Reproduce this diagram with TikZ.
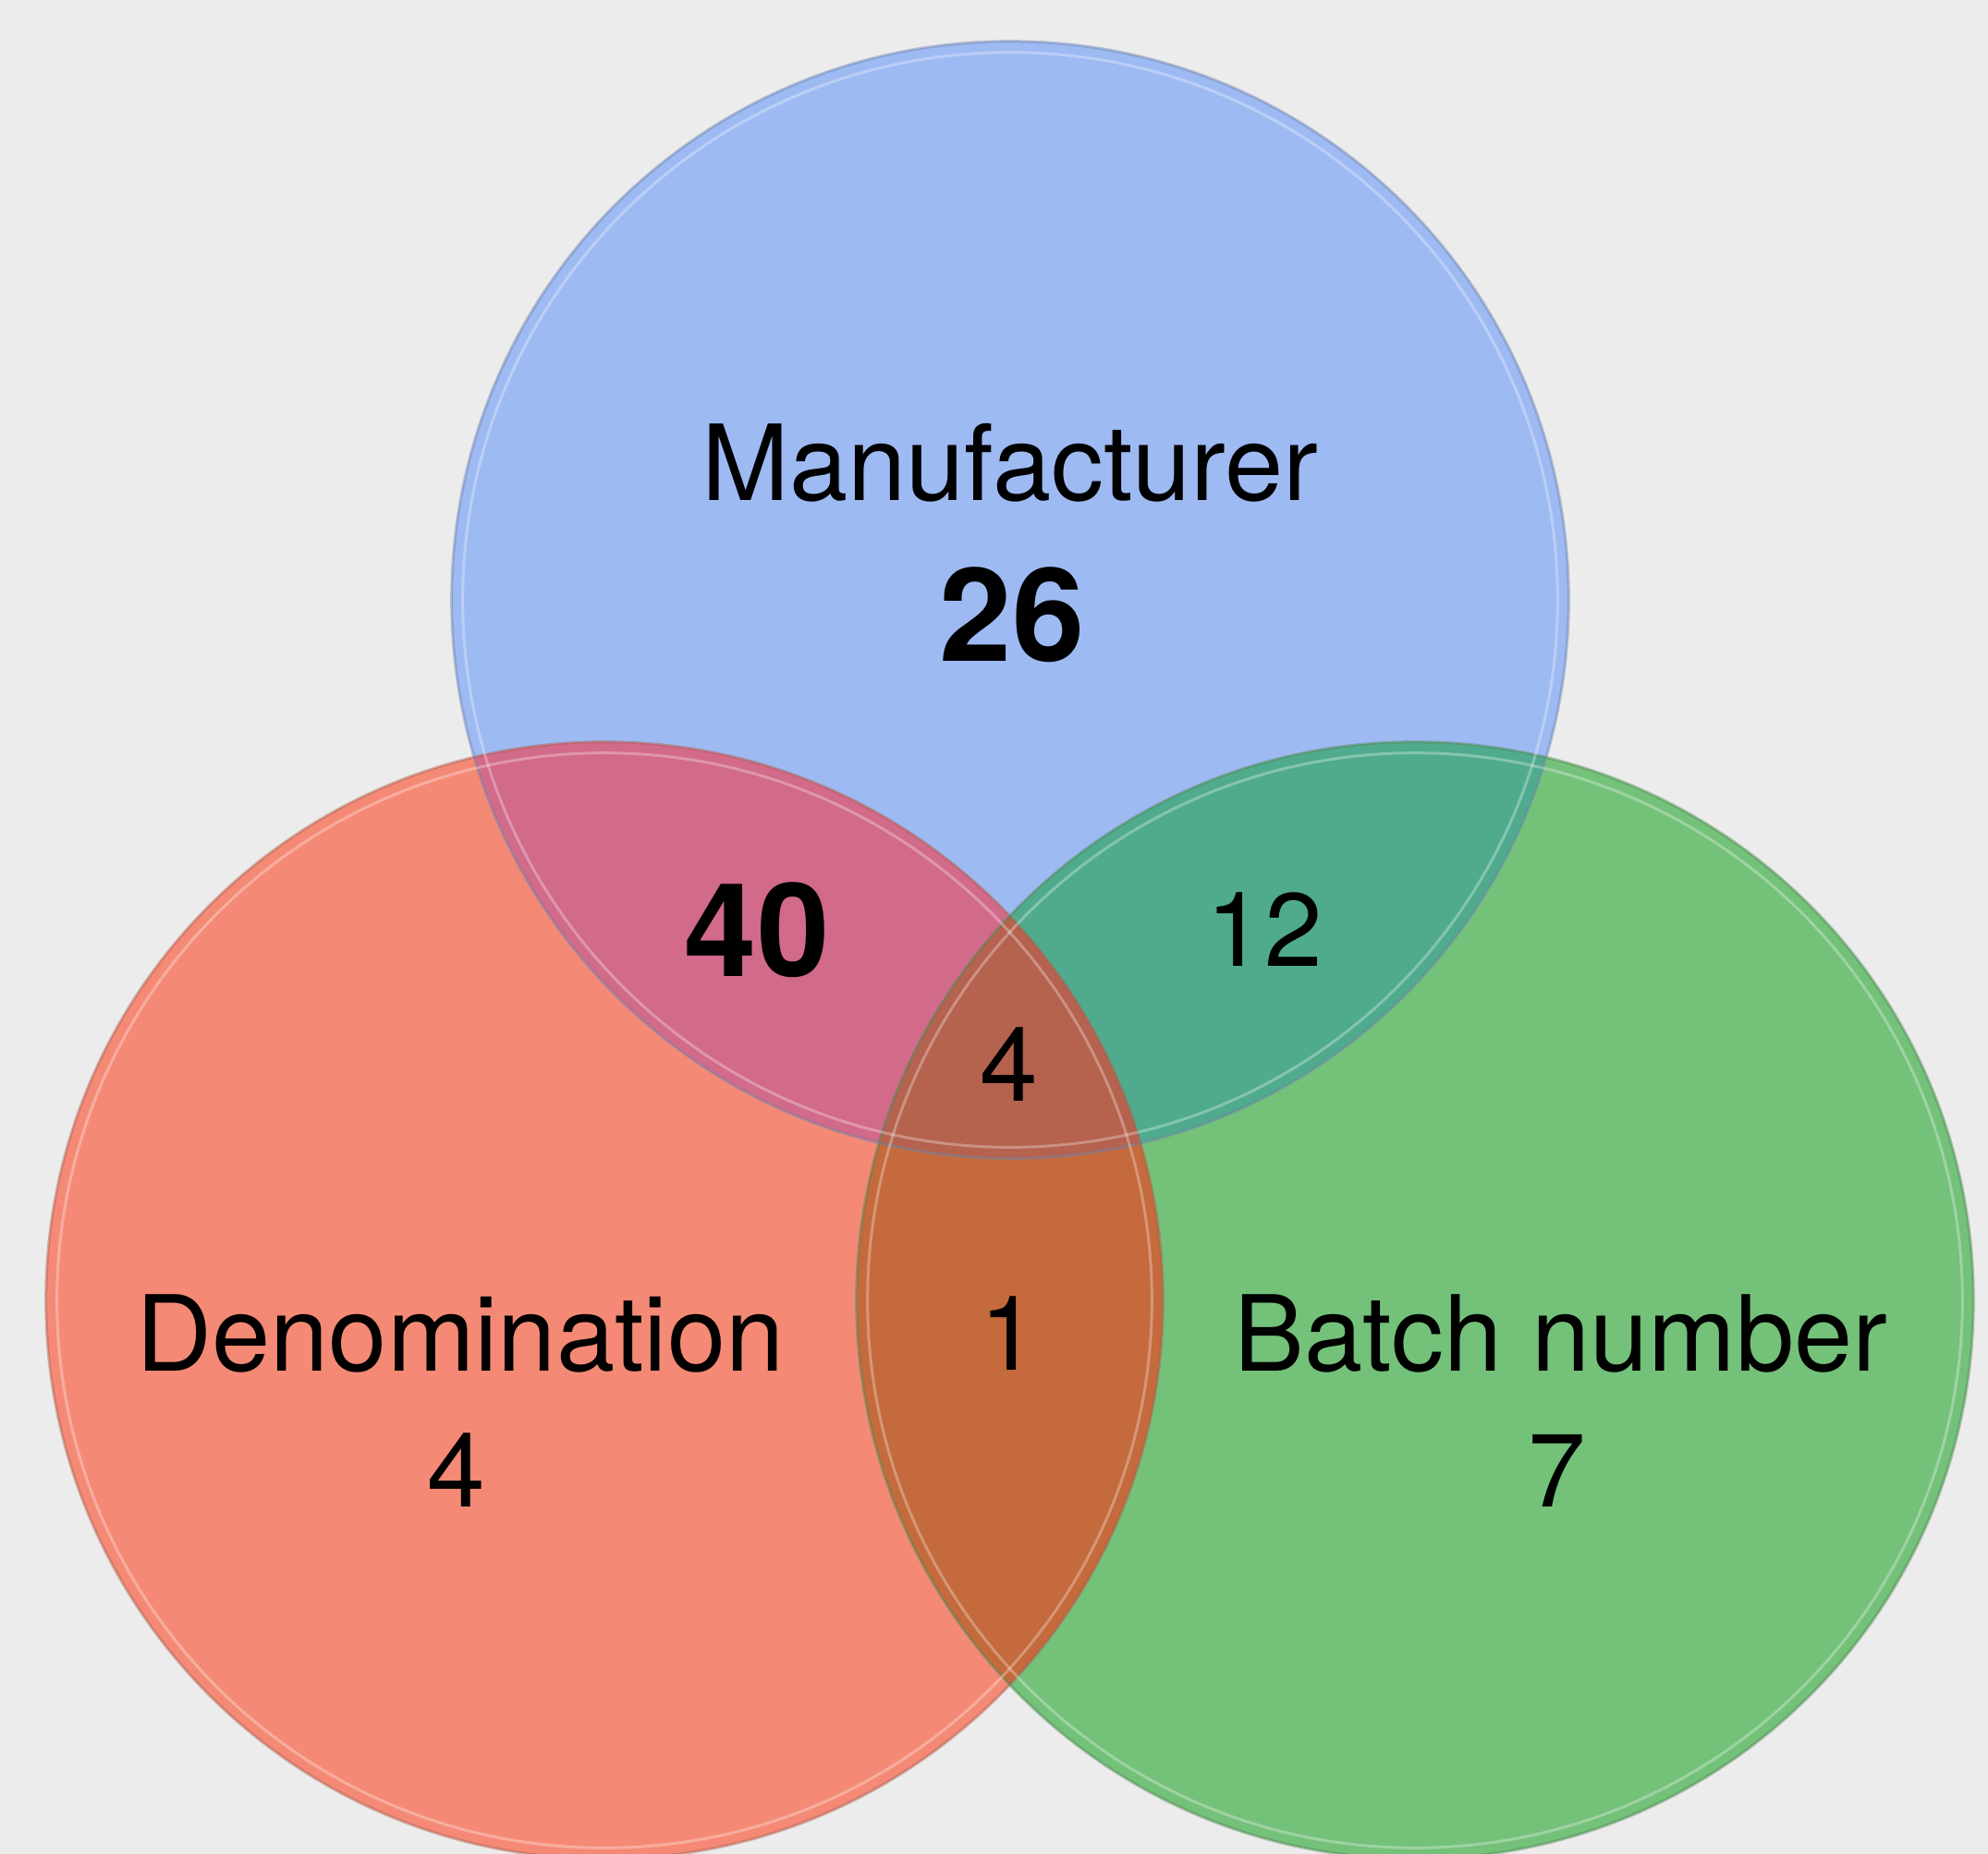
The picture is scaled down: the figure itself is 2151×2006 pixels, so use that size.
\documentclass[tikz,border=0pt]{standalone}
\usepackage{fontspec}
\setmainfont{TeX Gyre Heros}
\usetikzlibrary{positioning}
\definecolor{bgGray}{HTML}{ECECEC}
\definecolor{mfrBlue}{HTML}{9EBAF3}
\definecolor{denRed}{HTML}{F48A76}
\definecolor{batGreen}{HTML}{74C17A}
\definecolor{mfrDen}{HTML}{D26A8A}
\definecolor{mfrBat}{HTML}{50AB8E}
\definecolor{denBat}{HTML}{C46A3C}
\definecolor{allThree}{HTML}{B5624E}

\begin{document}
\begin{tikzpicture}[
    x=0.01cm, y=-0.01cm,
    every node/.style={align=center, text=black},
    setname/.style={font=\fontsize{32.3}{38}\selectfont},
    count/.style={font=\fontsize{32}{38}\selectfont},
    bigcount/.style={font=\fontsize{40}{46}\selectfont\bfseries},
    rim/.style={line width=0.03cm, draw opacity=0.45}
]

% Background
\useasboundingbox (0,0) rectangle (2151,2006);
\fill[bgGray] (0,0) rectangle (2151,2006);

% Circle centres
\coordinate (M) at (1093,649);
\coordinate (D) at (654,1407);
\coordinate (B) at (1531,1407);

% Circles
\fill[mfrBlue] (M) circle (6.04cm);
\fill[denRed] (D) circle (6.04cm);
\fill[batGreen] (B) circle (6.04cm);

% Overlaps
\begin{scope}
  \clip (D) circle (6.04cm);
  \fill[mfrDen] (M) circle (6.04cm);
  \fill[denBat] (B) circle (6.04cm);
\end{scope}
\begin{scope}
  \clip (M) circle (6.04cm);
  \fill[mfrBat] (B) circle (6.04cm);
  \clip (D) circle (6.04cm);
  \fill[allThree] (B) circle (6.04cm);
\end{scope}

% Rims
\draw[rim, mfrBlue!70!black] (M) circle (6.04cm);
\draw[rim, denRed!70!black] (D) circle (6.04cm);
\draw[rim, batGreen!70!black] (B) circle (6.04cm);
\draw[rim, white, draw opacity=0.3] (M) circle (5.92cm);
\draw[rim, white, draw opacity=0.3] (D) circle (5.92cm);
\draw[rim, white, draw opacity=0.3] (B) circle (5.92cm);

% Labels
\node[setname] (mfr) at (1093,501) {Manufacturer};
\node[bigcount] (mfrN) at (1095,665) {26};
\node[setname] (den) at (498,1443) {Denomination};
\node[count] (denN) at (494,1591) {4};
\node[setname] (bat) at (1689,1443) {Batch number};
\node[count] (batN) at (1685,1591) {7};
\node[bigcount] (mfrDenN) at (819,1006) {40};
\node[count] (mfrBatN) at (1368,1006) {12};
\node[count] (allN) at (1092,1152) {4};
\node[count] (denBatN) at (1092,1443) {1};

\end{tikzpicture}
\end{document}
